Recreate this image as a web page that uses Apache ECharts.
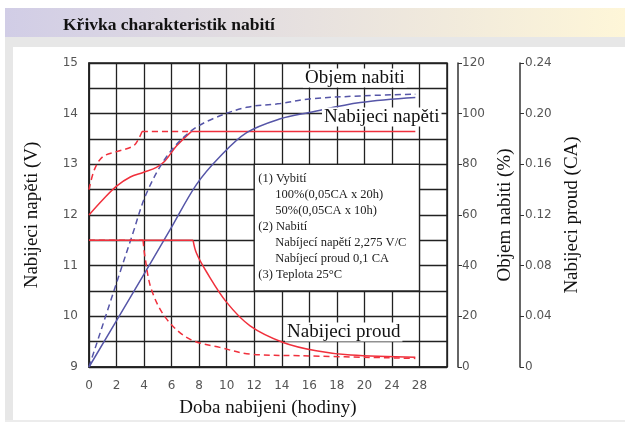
<!DOCTYPE html>
<html>
<head>
<meta charset="utf-8">
<script src="https://cdn.jsdelivr.net/npm/echarts@6/dist/echarts.min.js"></script>
<style>
  html, body { margin: 0; padding: 0; background: #fff; }
  #main { width: 625px; height: 423px; }
</style>
</head>
<body>
<div id="main"></div>
<script>
// tick labels for each vertical grid line (axis runs 0..26 in steps of 2)
var xTickLabels = ['0', '2', '4', '6', '8', '10', '12', '14', '16', '18', '20', '24', '28', ''];

// nabíjecí napětí (V) - 100 % vybití (plná), 50 % vybití (čárkovaná)
var voltage100 = [[0, 12.0], [1, 12.3], [2, 12.57], [3, 12.75], [3.93, 12.84], [4.9, 12.94], [5.5, 13.06], [6.35, 13.36], [7.45, 13.65], [23.7, 13.65]];
var voltage50 = [[0, 12.5], [0.4, 12.9], [1.0, 13.15], [2, 13.25], [3.2, 13.36], [3.6, 13.5], [3.85, 13.65], [7.45, 13.65]];

// objem nabití (%)
var charge100 = [[0, 0], [3, 27.5], [5.87, 54], [7.8, 72], [9.5, 83], [11.45, 92.5], [13.9, 98], [16, 100.5], [19.7, 104.4], [23.7, 106.4]];
var charge50 = [[0, 0], [3.2, 53], [4.17, 68.5], [5.63, 83], [7.3, 92.7], [9, 98], [11.45, 102.5], [13.9, 104], [16, 105.8], [19.7, 107], [23.7, 107.7]];

// nabíjecí proud (CA)
var current100 = [[0, 0.1], [7.56, 0.1], [7.8, 0.09], [8.54, 0.075], [10, 0.051], [11.7, 0.0325], [14.1, 0.0194], [16.5, 0.0128], [19, 0.0094], [23.7, 0.0076]];
var current50 = [[0, 0.1], [3.93, 0.1], [4.05, 0.088], [4.54, 0.061], [5.63, 0.038], [7.32, 0.022], [9.5, 0.0155], [11.7, 0.0102], [15.3, 0.0089], [23.7, 0.0068]];

// index of the sharp corner in each curve (curve is smoothed on both sides separately)
var corners = { voltage100: 8, voltage50: 6, current100: 1, current50: 1 };

var infoLines = [
    ['(1) Vybití', 0],
    ['100%(0,05CA x 20h)', 1],
    ['50%(0,05CA x 10h)', 1],
    ['(2) Nabití', 0],
    ['Nabíjecí napětí 2,275 V/C', 1],
    ['Nabíjecí proud 0,1 CA', 1],
    ['(3) Teplota 25°C', 0]
];

var RED = '#f0303c';
var BLUE = '#5656a8';
var serif = '"Liberation Serif", "DejaVu Serif", serif';
var tickFont = { color: '#555', fontSize: 12, fontFamily: '"DejaVu Sans", sans-serif' };

var myChart = echarts.init(document.getElementById('main'));

function line(data, axis, color, dashed) {
    return {
        type: 'line',
        yAxisIndex: axis,
        data: data,
        showSymbol: false,
        smooth: 0.35,
        silent: true,
        lineStyle: { color: color, width: 1.5, type: dashed ? [6, 4] : 'solid' }
    };
}
// split at the corner so the smoothing does not round it off
function lines(data, corner, axis, color, dashed) {
    if (corner == null) return [line(data, axis, color, dashed)];
    return [line(data.slice(0, corner + 1), axis, color, dashed), line(data.slice(corner), axis, color, dashed)];
}

var series = [].concat(
    lines(voltage50, corners.voltage50, 0, RED, true),
    lines(voltage100, corners.voltage100, 0, RED, false),
    lines(charge50, null, 1, BLUE, true),
    lines(charge100, null, 1, BLUE, false),
    lines(current50, corners.current50, 2, RED, true),
    lines(current100, corners.current100, 2, RED, false)
);
// white info box sitting on the grid cells
series[0].markArea = {
    silent: true,
    itemStyle: { color: '#fff', borderColor: '#222', borderWidth: 1.3 },
    data: [[{ coord: [12, 13] }, { coord: [24, 10.5] }]]
};

var option = {
    animation: false,
    grid: {
        left: 89, right: 178, top: 63, bottom: 54,
        show: true, borderColor: '#222', borderWidth: 1.5
    },
    xAxis: {
        type: 'value',
        min: 0, max: 26, interval: 2,
        name: 'Doba nabijeni (hodiny)',
        nameLocation: 'middle',
        nameGap: 32,
        nameTextStyle: { fontFamily: serif, fontSize: 19, color: '#111' },
        axisLine: { lineStyle: { color: '#222', width: 1.5 } },
        axisTick: { show: false },
        axisLabel: Object.assign({ margin: 13, formatter: function (v) { return xTickLabels[Math.round(v / 2)]; } }, tickFont),
        splitLine: { lineStyle: { color: '#222', width: 1.3 } }
    },
    yAxis: [
        {
            type: 'value',
            min: 9, max: 15, interval: 0.5,
            name: 'Nabijeci napěti (V)',
            nameLocation: 'middle',
            nameGap: 47,
            nameTextStyle: { fontFamily: serif, fontSize: 19, color: '#111' },
            axisLine: { show: true, lineStyle: { color: '#222', width: 1.5 } },
            axisTick: { show: false },
            axisLabel: Object.assign({ margin: 11, formatter: function (v) { return v % 1 === 0 ? String(v) : ''; } }, tickFont),
            splitLine: { lineStyle: { color: '#222', width: 1.3 } }
        },
        {
            type: 'value',
            position: 'right',
            offset: 11,
            min: 0, max: 120, interval: 20,
            name: 'Objem nabiti (%)',
            nameLocation: 'middle',
            nameRotate: 90,
            nameGap: 26,
            nameTextStyle: { fontFamily: serif, fontSize: 19, color: '#111' },
            axisLine: { show: true, lineStyle: { color: '#333', width: 1.5 } },
            axisTick: { show: true, length: 4, lineStyle: { color: '#333' } },
            axisLabel: Object.assign({ margin: 4 }, tickFont),
            splitLine: { show: false }
        },
        {
            type: 'value',
            position: 'right',
            offset: 73,
            min: 0, max: 0.24, interval: 0.04,
            name: 'Nabijeci proud (CA)',
            nameLocation: 'middle',
            nameRotate: 90,
            nameGap: 32,
            nameTextStyle: { fontFamily: serif, fontSize: 19, color: '#111' },
            axisLine: { show: true, lineStyle: { color: '#333', width: 1.5 } },
            axisTick: { show: true, length: 4, lineStyle: { color: '#333' } },
            axisLabel: Object.assign({ margin: 5, formatter: function (v) { return v === 0 ? '0' : v.toFixed(2); } }, tickFont),
            splitLine: { show: false }
        }
    ],
    series: series
};

option && myChart.setOption(option);

// page decoration + texts
var boxTL = myChart.convertToPixel({ gridIndex: 0 }, [12, 13]);
var graphics = [
    { type: 'rect', shape: { x: 5, y: 8, width: 620, height: 29 }, z: -10,
      style: { fill: new echarts.graphic.LinearGradient(0, 0, 1, 0, [{ offset: 0, color: '#d1cde6' }, { offset: 1, color: '#fef6d8' }]) } },
    { type: 'rect', shape: { x: 5, y: 37, width: 620, height: 10 }, z: -10, style: { fill: '#e7e7e7' } },
    { type: 'rect', shape: { x: 5, y: 37, width: 8, height: 385 }, z: -10, style: { fill: '#e7e7e7' } },
    { type: 'rect', shape: { x: 5, y: 420, width: 620, height: 2 }, z: -10, style: { fill: '#ececec' } },
    { type: 'text', z: 10, style: { text: 'Křivka charakteristik nabití', x: 63, y: 25, verticalAlign: 'middle',
      font: 'bold 17.5px ' + serif, fill: '#111' } },
    { type: 'text', z: 100, style: { text: 'Objem nabiti', x: 303, y: 78, verticalAlign: 'middle',
      font: '19px ' + serif, fill: '#111', backgroundColor: '#fff', padding: [0, 2] } },
    { type: 'text', z: 100, style: { text: 'Nabijeci napěti', x: 322, y: 117, verticalAlign: 'middle',
      font: '19px ' + serif, fill: '#111', backgroundColor: '#fff', padding: [0, 2] } },
    { type: 'text', z: 100, style: { text: 'Nabijeci proud', x: 285, y: 332, verticalAlign: 'middle',
      font: '19px ' + serif, fill: '#111', backgroundColor: '#fff', padding: [0, 2] } }
];
infoLines.forEach(function (l, i) {
    graphics.push({
        type: 'text', z: 100,
        style: { text: l[0], x: boxTL[0] + 4 + l[1] * 17, y: boxTL[1] + 14 + i * 16, verticalAlign: 'middle',
                 font: '12.5px ' + serif, fill: '#222' }
    });
});
myChart.setOption({ graphic: graphics });
</script>
</body>
</html>
